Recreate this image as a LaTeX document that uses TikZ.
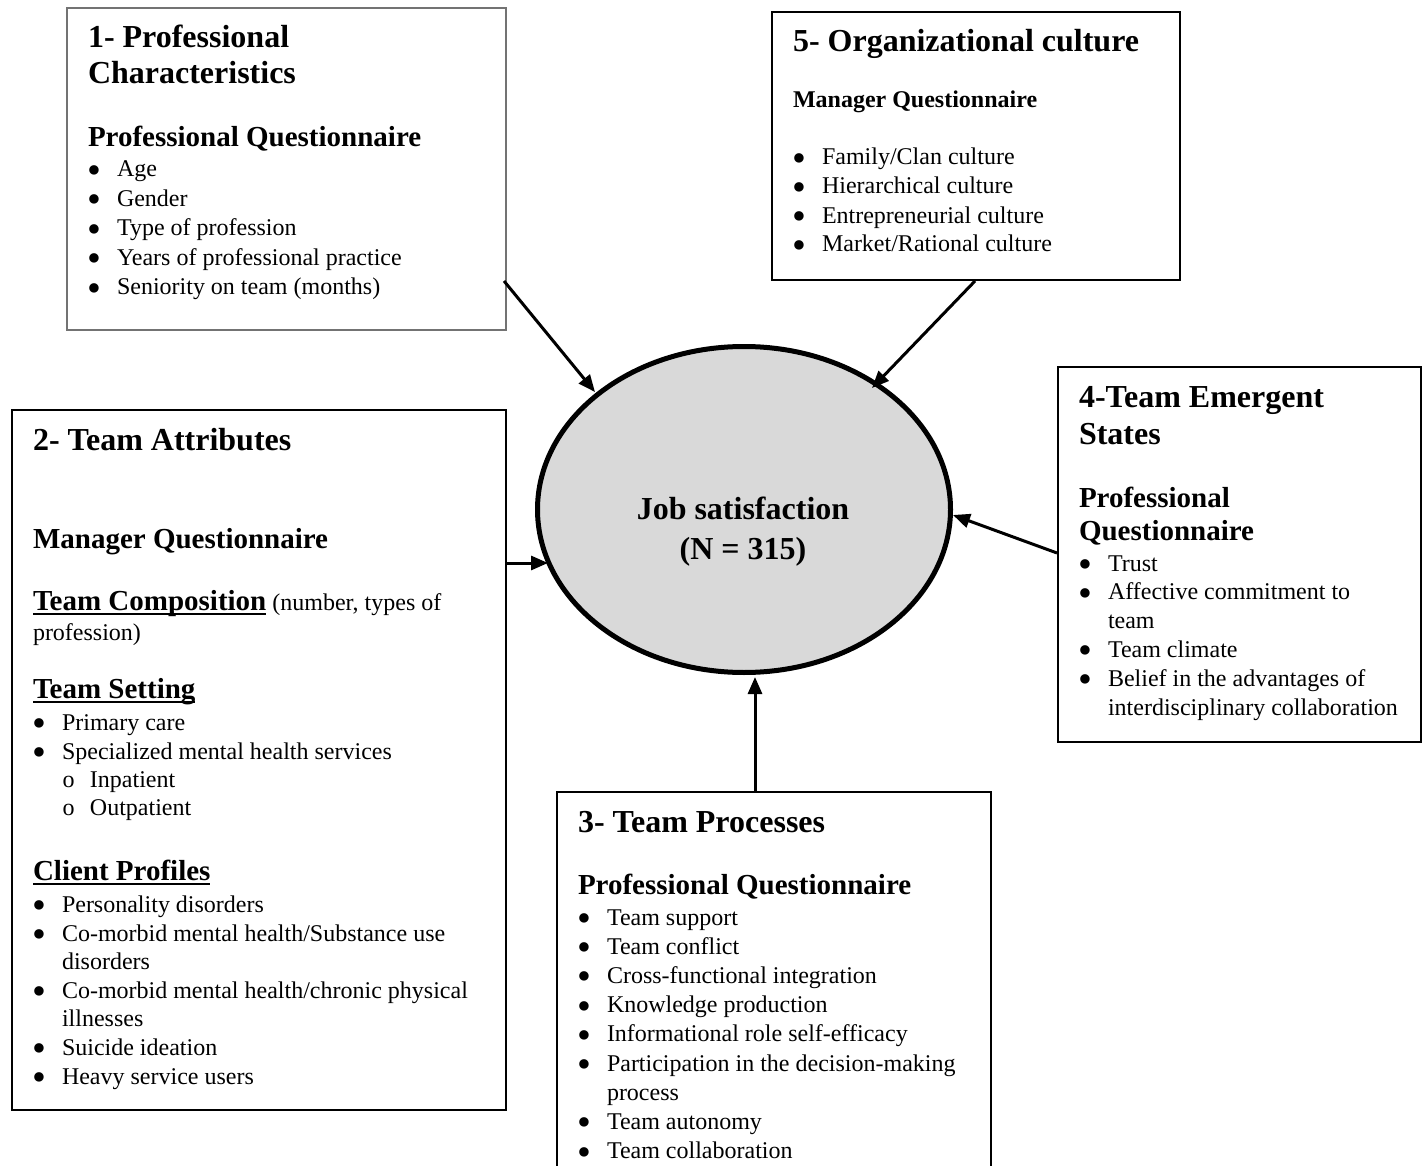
\documentclass[tikz,border=0pt]{standalone}
\usepackage{fontspec}
\usepackage{graphicx}
\setmainfont{Liberation Serif}
\usetikzlibrary{arrows.meta,shapes.geometric}
\definecolor{ellgray}{HTML}{D9D9D9}
\newcommand\LN[3]{{\fontsize{#1}{#2}\selectfont #3\par}}
\newcommand\LB[3]{{\fontsize{#1}{#2}\selectfont\bfseries #3\par}}
\newcommand\FL{\rule{0pt}{30pt}}
\newcommand\mybul{\smash{\raisebox{-6.5pt}{\scalebox{1.65}{\textbullet}}}}
\newcommand\BI[1]{\leavevmode\makebox[29pt][l]{\hspace{-0.5pt}\mybul}#1}
\newcommand\SI[1]{\leavevmode\hspace*{29.5pt}\makebox[27.5pt][l]{o}#1}
\newcommand\CI[1]{\leavevmode\hspace*{29pt}#1}
\newcommand\myul[1]{\leavevmode\setbox0\hbox{#1}\rlap{\rule[-5pt]{\wd0}{1.8pt}}\box0}
\hbadness=10000 \hfuzz=50pt
\begin{document}
\begin{tikzpicture}[x=1pt,y=-1pt,
  frame/.style={draw=black, line width=2pt, anchor=north west, inner sep=0pt, outer sep=0pt},
  boxtext/.style={anchor=north west, inner sep=0pt, outer sep=0pt, text width=#1, align=flush left, font=\fontsize{24}{29.5}\selectfont},
  arr/.style={line width=3pt, -{Triangle[length=17pt,width=14pt]}}]
\useasboundingbox (0,0) rectangle (1424,1166);
\clip (0,0) rectangle (1424,1166);

% frames
\node[frame, draw=black!55, line width=1.3pt, minimum width=439pt, minimum height=322pt] (b1) at (67,8) {};
\node[frame, minimum width=408pt, minimum height=268pt] (b5) at (772,12) {};
\node[frame, line width=2.2pt, minimum width=494pt, minimum height=700pt] (b2) at (12,410) {};
\node[frame, minimum width=434pt, minimum height=400pt] (b3) at (557,792) {};
\node[frame, minimum width=363pt, minimum height=375pt] (b4) at (1058,367) {};

% central ellipse
\node[ellipse, draw, line width=5pt, fill=ellgray, minimum width=413pt, minimum height=326pt, inner sep=0pt] (js) at (744,509.5) {};
\node[anchor=north, inner sep=0pt, text width=320pt, align=flush center] (jst) at (743,489) {%
\LB{32}{40}{\FL Job satisfaction}
\LB{32}{40}{(N = 315)}};

% box 1
\node[boxtext=410pt] (t1x) at (88,18) {%
\LB{32}{36}{\FL 1- Professional}
\LB{32}{36}{Characteristics}
\LB{29}{63}{Professional Questionnaire}
\LN{24}{30}{\BI{Age}}
\LN{24}{29.5}{\BI{Gender}}
\LN{24}{29.5}{\BI{Type of profession}}
\LN{24}{29.5}{\BI{Years of professional practice}}
\LN{24}{29.5}{\BI{Seniority on team (months)}}};

% box 5
\node[boxtext=380pt] (t5x) at (793,22) {%
\LB{32}{36}{\FL 5- Organizational culture}
\LB{24}{56}{Manager Questionnaire}
\LN{24}{57}{\BI{Family/Clan culture}}
\LN{24}{29}{\BI{Hierarchical culture}}
\LN{24}{29.5}{\BI{Entrepreneurial culture}}
\LN{24}{28.5}{\BI{Market/Rational culture}}};

% box 2
\node[boxtext=465pt] (t2x) at (33,420) {%
\LB{32}{36}{\FL 2- Team Attributes}
\LB{29}{98}{Manager Questionnaire}
\LN{24}{62}{{\fontsize{29}{62}\selectfont\bfseries\myul{Team Composition}} (number, types of}
\LN{24}{30}{profession)}
\LB{29}{58}{\myul{Team Setting}}
\LN{24}{32}{\BI{Primary care}}
\LN{24}{29}{\BI{Specialized mental health services}}
\LN{24}{28}{\SI{Inpatient}}
\LN{24}{28}{\SI{Outpatient}}
\LB{29}{65}{\myul{Client Profiles}}
\LN{24}{32}{\BI{Personality disorders}}
\LN{24}{29}{\BI{Co-morbid mental health/Substance use}}
\LN{24}{28}{\CI{disorders}}
\LN{24}{29}{\BI{Co-morbid mental health/chronic physical}}
\LN{24}{28}{\CI{illnesses}}
\LN{24}{29}{\BI{Suicide ideation}}
\LN{24}{29}{\BI{Heavy service users}}};

% box 3
\node[boxtext=405pt] (t3x) at (578,802) {%
\LB{32}{36}{\FL 3- Team Processes}
\LB{29}{62}{Professional Questionnaire}
\LN{24}{31}{\BI{Team support}}
\LN{24}{29.2}{\BI{Team conflict}}
\LN{24}{29.2}{\BI{Cross-functional integration}}
\LN{24}{29.2}{\BI{Knowledge production}}
\LN{24}{29.2}{\BI{Informational role self-efficacy}}
\LN{24}{29.2}{\BI{Participation in the decision-making}}
\LN{24}{29.2}{\CI{process}}
\LN{24}{29.2}{\BI{Team autonomy}}
\LN{24}{29.2}{\BI{Team collaboration}}};

% box 4
\node[boxtext=340pt] (t4x) at (1079,377) {%
\LB{32}{37}{\FL 4-Team Emergent}
\LB{32}{37}{States}
\LB{29}{63}{Professional}
\LB{29}{33}{Questionnaire}
\LN{24}{31}{\BI{Trust}}
\LN{24}{28.8}{\BI{Affective commitment to}}
\LN{24}{28.8}{\CI{team}}
\LN{24}{28.8}{\BI{Team climate}}
\LN{24}{28.8}{\BI{Belief in the advantages of}}
\LN{24}{28.8}{\CI{interdisciplinary collaboration}}};

% connectors
\coordinate (s1) at (504,281); \coordinate (e1) at (595,392);
\coordinate (s5) at (975,281); \coordinate (e5) at (872,388);
\coordinate (s4) at (1057,553); \coordinate (e4) at (953,515);
\coordinate (s2) at (507,563); \coordinate (e2) at (548,563);
\coordinate (s3) at (755,791); \coordinate (e3) at (755,677);
\draw[arr] (s1) -- (e1);
\draw[arr] (s5) -- (e5);
\draw[arr] (s4) -- (e4);
\draw[arr] (s2) -- (e2);
\draw[arr] (s3) -- (e3);
\end{tikzpicture}
\end{document}
